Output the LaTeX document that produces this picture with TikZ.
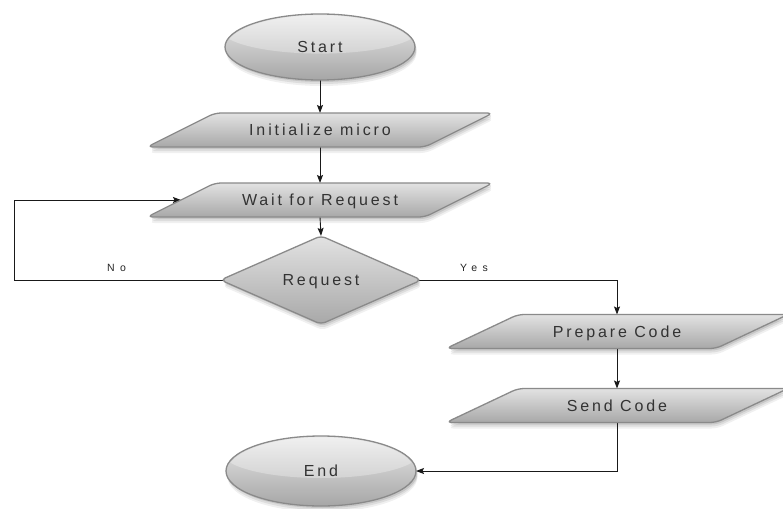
\documentclass[tikz,border=0pt]{standalone}
\usepackage{fontspec}
\setmainfont{Liberation Sans}
\newfontfamily\boxfont{Liberation Sans}[LetterSpace=18]
\newfontfamily\labfont{Liberation Sans}[LetterSpace=50]
\usetikzlibrary{shapes.geometric,arrows.meta}
\definecolor{txt}{HTML}{333333}
\definecolor{edge}{HTML}{8A8A8A}
\definecolor{ftop}{HTML}{E2E2E2}
\definecolor{fbot}{HTML}{A8A8A8}
\pgfdeclarelayer{bgl}
\pgfdeclarelayer{shadowl}
\pgfdeclarelayer{linel}
\pgfdeclarelayer{shapel}
\pgfsetlayers{bgl,shadowl,linel,shapel,main}
\newcommand\parapath[2]{([xshift=#2]#1.north west) -- ([xshift=#2]#1.north east) -- ([xshift=-#2]#1.south east) -- ([xshift=-#2]#1.south west) -- cycle}
\newcommand\drawpara[2]{%
  \begin{pgfonlayer}{shadowl}
  \foreach \sh/\opc in {2/0.10,4/0.08,6/0.06}
    \fill[black,opacity=\opc,rounded corners=6pt,transform canvas={xshift=1.5pt,yshift=-\sh pt}] \parapath{#1}{#2};
  \end{pgfonlayer}
  \begin{pgfonlayer}{shapel}
  \path[shapefill,rounded corners=6pt] \parapath{#1}{#2};
  \end{pgfonlayer}}
\newcommand\drawell[3]{%
  \begin{pgfonlayer}{shadowl}
  \foreach \sh/\opc in {2/0.10,4/0.08,6/0.06}
    \fill[black,opacity=\opc,transform canvas={xshift=1.5pt,yshift=-\sh pt}] (#1.center) ellipse [x radius=#2, y radius=#3];
  \end{pgfonlayer}
  \begin{pgfonlayer}{shapel}
  \path[shapefill, top color=black!8, bottom color=black!35] (#1.center) ellipse [x radius=#2, y radius=#3];
  \begin{scope}
  \clip (#1.center) ellipse [x radius=#2-1.5, y radius=#3-1.5];
  \fill[white,opacity=.3] ([yshift=#3*0.55pt]#1.center) ellipse [x radius=#2*1.05, y radius=#3*0.75];
  \end{scope}
  \end{pgfonlayer}}
\newcommand\drawdia[1]{%
  \begin{pgfonlayer}{shadowl}
  \foreach \sh/\opc in {2/0.10,4/0.08,6/0.06}
    \fill[black,opacity=\opc,rounded corners=5pt,transform canvas={xshift=1.5pt,yshift=-\sh pt}] (#1.north) -- (#1.east) -- (#1.south) -- (#1.west) -- cycle;
  \end{pgfonlayer}
  \begin{pgfonlayer}{shapel}
  \path[shapefill,rounded corners=5pt] (#1.north) -- (#1.east) -- (#1.south) -- (#1.west) -- cycle;
  \end{pgfonlayer}}
\begin{document}
\begin{tikzpicture}[x=1pt,y=-1pt,
  box/.style={font=\boxfont\fontsize{16}{18}\selectfont, text=txt, inner sep=0pt, outer sep=0pt, text height=11.4pt, text depth=0pt},
  para/.style={box, rectangle, minimum width=#1, minimum height=34},
  para/.default=278,
  term/.style={box, ellipse, minimum width=190, minimum height=66},
  dec/.style={box, diamond, minimum width=201, minimum height=77},
  lab/.style={font=\labfont\fontsize{10.5}{12}\selectfont, inner sep=0pt, anchor=base west, text=black!85},
  conn/.style={line width=0.9pt, black!90},
  arr/.style={conn, -{Stealth[length=8pt,width=6pt,inset=1.5pt]}},
  shapefill/.style={top color=ftop, bottom color=fbot, draw=edge, line width=1.3pt}]
\useasboundingbox (0,0) rectangle (783,508);
\begin{pgfonlayer}{bgl}\fill[white] (0,0) rectangle (783,508);\end{pgfonlayer}
\node[term] (start) at (320,47) {Start};
\node[para] (init) at (320,130) {Initialize micro};
\node[para] (wait) at (320,200) {Wait for Request};
\node[dec] (req) at (321,280) {Request};
\node[para=270] (prep) at (617,331.5) {Prepare Code};
\node[para=270] (send) at (617,405.5) {Send Code};
\node[term, minimum height=70] (end) at (321,471) {End};
\node[lab] (no) at (107,271.5) {No};
\node[lab] (yes) at (460,271.5) {Yes};
\coordinate (loop) at (14,280);
\drawpara{init}{34}
\drawpara{wait}{34}
\drawpara{prep}{36}
\drawpara{send}{36}
\drawell{start}{95}{33}
\drawell{end}{95}{35}
\drawdia{req}
\begin{pgfonlayer}{linel}
\draw[arr] (start.south) -- (init.north);
\draw[arr] (init.south) -- (wait.north);
\draw[arr] (wait.south) -- (req.north);
\draw[arr] (req.center) -- (loop) |- (wait.west);
\draw[arr] (req.center) -| (prep.north);
\draw[arr] (prep.south) -- (send.north);
\draw[arr] (send.south) |- (end.east);
\end{pgfonlayer}
\end{tikzpicture}
\end{document}
